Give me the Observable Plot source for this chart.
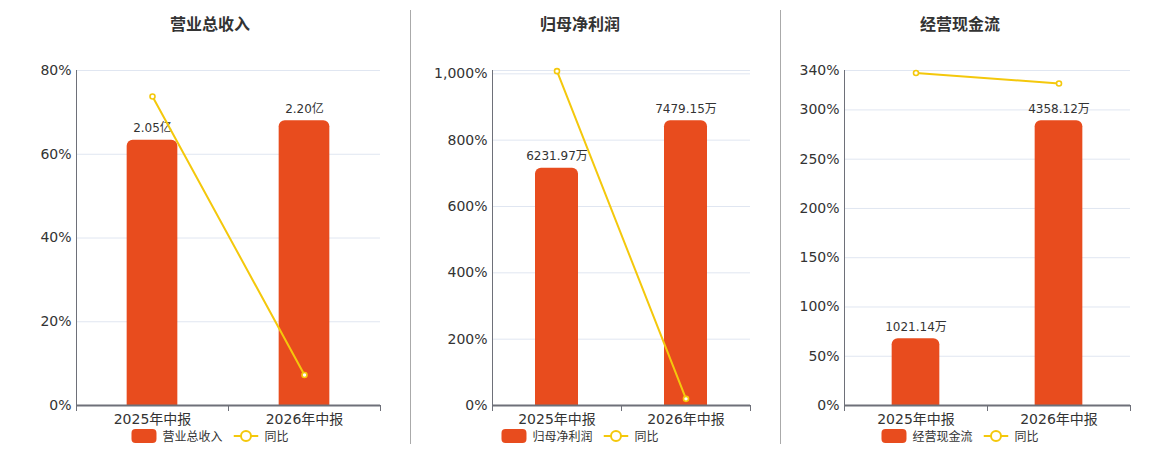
<!DOCTYPE html>
<html>
<head>
<meta charset="utf-8">
<script src="https://cdn.jsdelivr.net/npm/d3@7"></script>
<script src="https://cdn.jsdelivr.net/npm/@observablehq/plot@0.6"></script>
<style>
  html, body { margin: 0; padding: 0; background: #fff; }
  #root { position: relative; width: 1160px; height: 450px; overflow: hidden;
          font-family: "DejaVu Sans", "Noto Sans CJK SC", sans-serif; color: #333; }
  .panel { position: absolute; top: 0; height: 450px; }
  .title { position: absolute; top: 11px; transform: translateX(-50%); white-space: nowrap;
           font-size: 16px; font-weight: bold; color: #333; font-family: "Noto Sans CJK SC", sans-serif; }
  .legend { position: absolute; top: 428px; transform: translateX(-50%); display: flex; align-items: center;
            white-space: nowrap; font-size: 12px; color: #333; font-family: "Noto Sans CJK SC", sans-serif; }
  .legend .sw { display: inline-block; width: 25px; height: 14px; border-radius: 4px; margin-right: 6px; }
  .legend .lab { line-height: 16px; }
  .legend .gap { display: inline-block; width: 11px; }
  .sep { position: absolute; top: 10px; width: 1px; height: 434px; background: #aaa; }
</style>
</head>
<body>
<div id="root"></div>
<script>
// ---------- data ----------
const categories = ["2025年中报", "2026年中报"];
const titles = ["营业总收入", "归母净利润", "经营现金流"];
const lineName = "同比";

const revenueValues = [2.05, 2.20];
const revenueLabels = ["2.05亿", "2.20亿"];
const revenueYoY = [73.8, 7.3];
const revenueTicks = [0, 20, 40, 60, 80];

const profitValues = [6231.97, 7479.15];
const profitLabels = ["6231.97万", "7479.15万"];
const profitYoY = [1008, 20.0];
const profitTicks = [0, 200, 400, 600, 800, 1000];

const cashValues = [1021.14, 4358.12];
const cashLabels = ["1021.14万", "4358.12万"];
const cashYoY = [337.5, 326.8];
const cashTicks = [0, 50, 100, 150, 200, 250, 300, 340];

const yMaxes = [80, 1010, 340];

// ---------- style ----------
const BAR = "#e84c1e";
const LINE = "#f4c80c";
const AXIS = "#6e7079";
const GRID = "#e0e6f1";

const root = document.getElementById("root");

function panel(cfg) {
  const { left, width, ml, mr, center, title, values, labels, yoy, ticks, ymax } = cfg;
  const data = categories.map((c, i) => ({ cat: c, value: values[i], label: labels[i], yoy: yoy[i] }));
  const barMax = d3.max(values) / 0.85;   // hidden secondary axis
  const toY = v => v / barMax * ymax;
  const mt = 70, mb = 45, H = 450;
  const bw = (width - ml - mr) / categories.length;
  const inset = bw / 3;
  const grid = ticks.includes(ymax) ? ticks : ticks.concat([ymax]);
  const fmt = d => d3.format(",")(d) + "%";

  const chart = Plot.plot({
    width, height: H,
    marginLeft: ml, marginRight: mr, marginTop: mt, marginBottom: mb,
    style: { fontFamily: '"DejaVu Sans", "Noto Sans CJK SC", sans-serif', color: "#333", background: "transparent", overflow: "visible" },
    x: { domain: categories, padding: 0 },
    y: { domain: [0, ymax] },
    marks: [
      Plot.gridY(grid, { stroke: GRID, strokeOpacity: 1, strokeWidth: 1 }),
      // rounded top; bottom corners pushed below the frame and clipped away
      Plot.barY(data, { x: "cat", y1: -ymax * 0.05, y2: d => toY(d.value), fill: BAR, rx: 6,
                        insetLeft: inset, insetRight: inset, clip: true }),
      Plot.text(data, { x: "cat", y: d => toY(d.value), text: "label", dy: -12, fontSize: 12, fill: "#333" }),
      Plot.frame({ anchor: "left", stroke: AXIS, strokeWidth: 1 }),
      Plot.ruleY([0], { stroke: AXIS, strokeWidth: 2 }),
      Plot.ruleX(categories, { x: d => d, dx: -bw / 2, y1: 0, y2: 0, insetBottom: -6, stroke: AXIS, strokeWidth: 1 }),
      Plot.ruleX(categories.slice(-1), { x: d => d, dx: bw / 2, y1: 0, y2: 0, insetBottom: -6, stroke: AXIS, strokeWidth: 1 }),
      Plot.line(data, { x: "cat", y: "yoy", stroke: LINE, strokeWidth: 2 }),
      Plot.dot(data, { x: "cat", y: "yoy", r: 2.5, fill: "#fff", stroke: LINE, strokeWidth: 1.6 }),
      Plot.axisY({ ticks, tickSize: 0, tickPadding: 5, tickFormat: fmt, fontSize: 14, fill: "#333", label: null }),
      Plot.axisX({ tickSize: 0, tickPadding: 9, fontSize: 14, fill: "#333", label: null })
    ]
  });

  const div = document.createElement("div");
  div.className = "panel";
  div.style.left = left + "px";
  div.style.width = width + "px";
  div.appendChild(chart);
  root.appendChild(div);

  const t = document.createElement("div");
  t.className = "title";
  t.style.left = center + "px";
  t.textContent = title;
  root.appendChild(t);

  const lg = document.createElement("div");
  lg.className = "legend";
  lg.style.left = center + "px";
  lg.innerHTML =
    `<span class="sw" style="background:${BAR}"></span><span class="lab">${title}</span><span class="gap"></span>` +
    `<svg width="25" height="14" style="margin-right:6px"><line x1="0" y1="7" x2="25" y2="7" stroke="${LINE}" stroke-width="2"/>` +
    `<circle cx="12.5" cy="7" r="5" fill="#fff" stroke="${LINE}" stroke-width="2"/></svg><span class="lab">${lineName}</span>`;
  root.appendChild(lg);
}

panel({ left: 0, width: 410, ml: 76, mr: 30, center: 210, title: titles[0],
        values: revenueValues, labels: revenueLabels, yoy: revenueYoY, ticks: revenueTicks, ymax: yMaxes[0] });
panel({ left: 410, width: 370, ml: 82, mr: 30, center: 580, title: titles[1],
        values: profitValues, labels: profitLabels, yoy: profitYoY, ticks: profitTicks, ymax: yMaxes[1] });
panel({ left: 780, width: 380, ml: 64, mr: 30, center: 960, title: titles[2],
        values: cashValues, labels: cashLabels, yoy: cashYoY, ticks: cashTicks, ymax: yMaxes[2] });

for (const x of [410, 780]) {
  const s = document.createElement("div");
  s.className = "sep";
  s.style.left = x + "px";
  root.appendChild(s);
}
</script>
</body>
</html>
